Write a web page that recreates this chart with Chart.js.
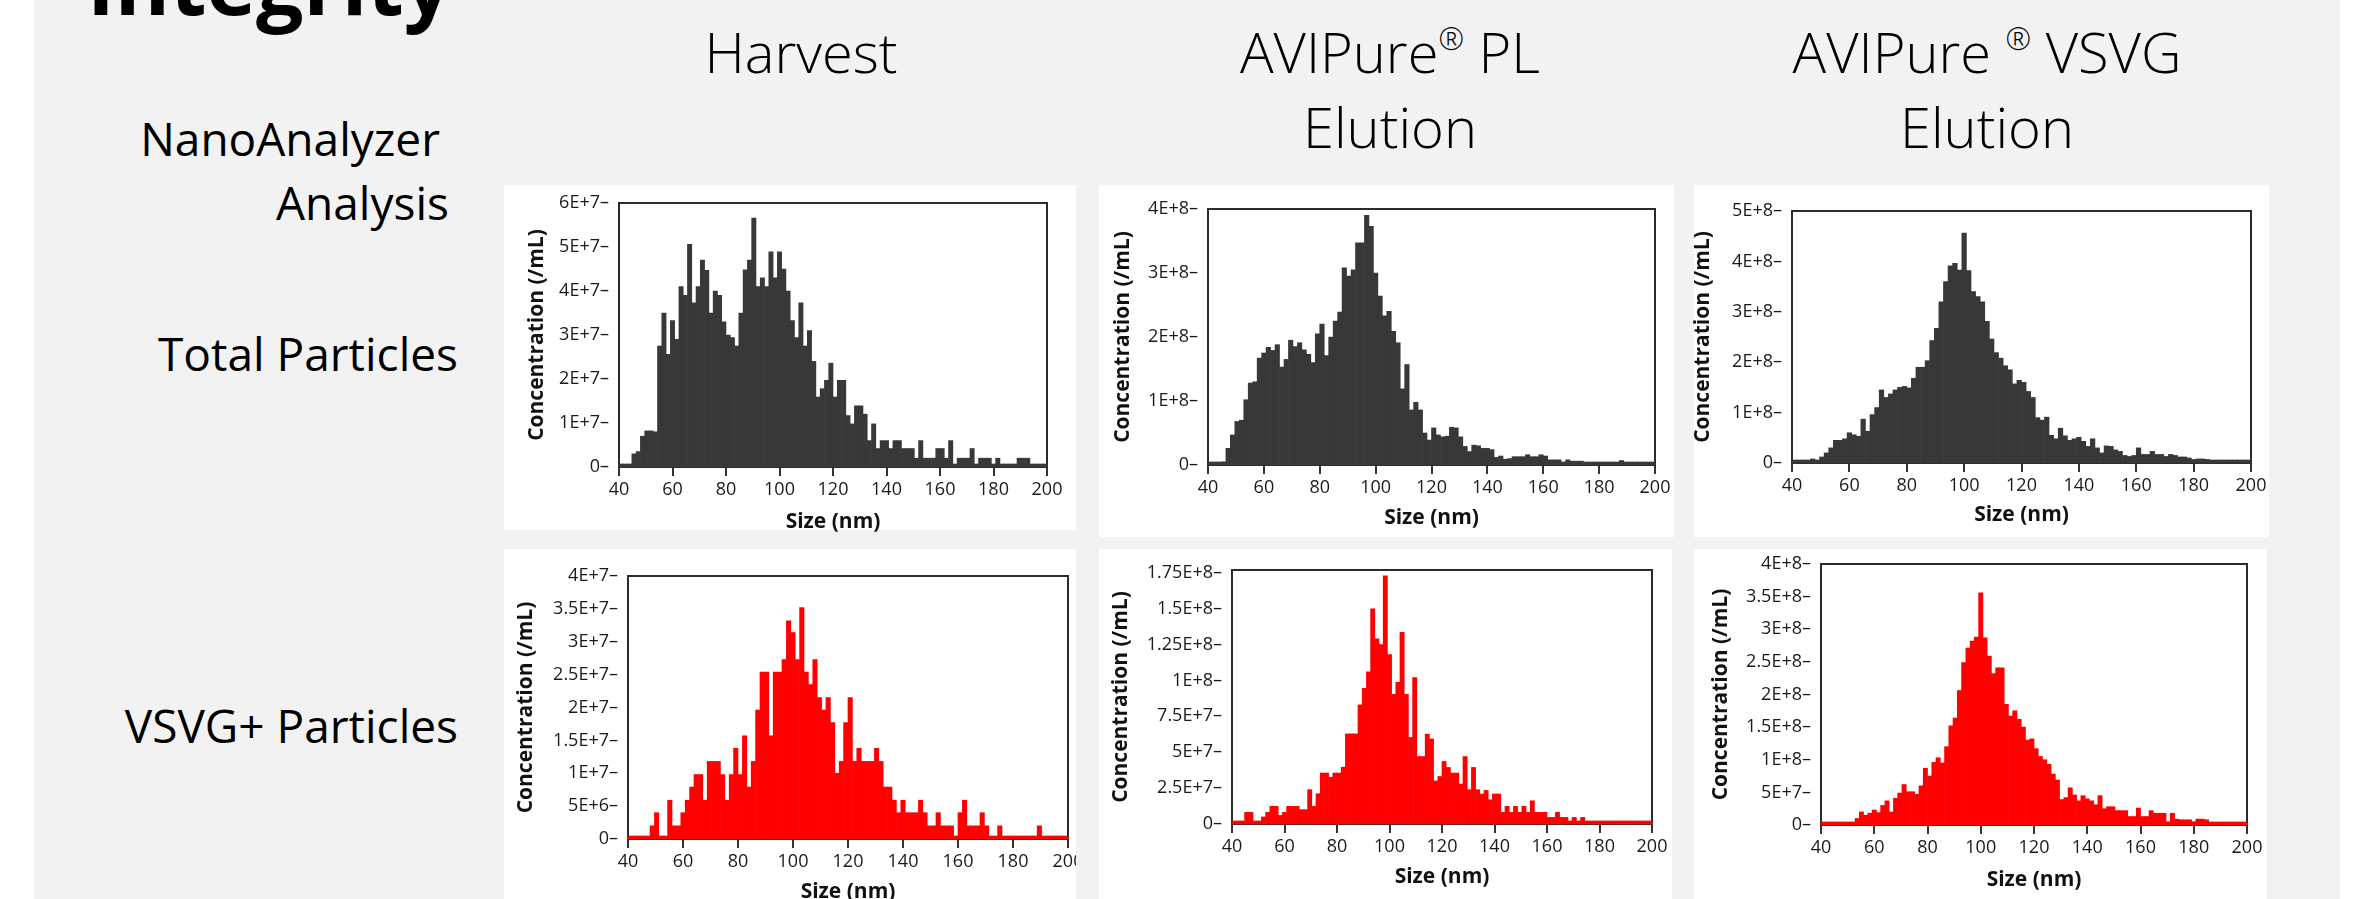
<!DOCTYPE html>
<html>
<head>
<meta charset="utf-8">
<title>NanoAnalyzer Analysis</title>
<script src="https://cdn.jsdelivr.net/npm/chart.js@4.4.1/dist/chart.umd.min.js"></script>
<style>
  html, body { margin: 0; padding: 0; background: #fff; }
  body { width: 2375px; height: 899px; position: relative; overflow: hidden; font-family: "Open Sans", sans-serif; color: #000; }
  .slide { position: absolute; left: 34px; top: 0; width: 2306px; height: 899px; background: #f2f2f2; }
  .txt { position: absolute; white-space: nowrap; line-height: 1; }
  .side { font-size: 46px; }
  .head { position: absolute; width: 600px; text-align: center; font-size: 56px; font-weight: 300; line-height: 75px; white-space: nowrap; }
  .reg { font-size: 0.55em; vertical-align: 0.75em; line-height: 0; }
  .panel { position: absolute; background: #fff; }
  .panel canvas { position: absolute; }
</style>
</head>
<body>
<div class="slide"></div>

<div class="txt" style="left:87px; top:-59px; font-size:84px; font-weight:700;">Integrity</div>

<div class="head" style="left:501px; top:14px;">Harvest</div>
<div class="head" style="left:1090px; top:14px;">AVIPure<span class="reg">®</span> PL<br>Elution</div>
<div class="head" style="left:1687px; top:14px;">AVIPure <span class="reg">®</span> VSVG<br>Elution</div>

<div class="txt side" style="right:1935px; top:115px;">NanoAnalyzer</div>
<div class="txt side" style="right:1926px; top:179px;">Analysis</div>
<div class="txt side" style="right:1917px; top:330px;">Total Particles</div>
<div class="txt side" style="right:1917px; top:702px;">VSVG+ Particles</div>

<script>
// size bins of the NanoAnalyzer histograms (nm)
const binStart = 40, binWidth = 1.6;
const sizeBins = Array.from({ length: 100 }, (_, i) => +(binStart + binWidth * (i + 0.5)).toFixed(2));
const xTicks = [40, 60, 80, 100, 120, 140, 160, 180, 200];

// Total particles, Harvest (x1E+6 /mL)
const harvestTotal = [
  0, 0, 0, 3, 3.5, 7, 8.2, 8.2, 8, 27.5,
  35, 25.6, 33.3, 29, 41, 39, 50.6, 37.3, 41, 47,
  44.7, 35, 40, 39, 33, 30, 29.4, 27.5, 35, 44.8,
  47, 56.6, 41, 43, 41, 48.9, 43, 48.9, 45, 40,
  33.3, 29.4, 37.3, 27.5, 31, 24, 15.9, 17.8, 19.7, 23.6,
  15.9, 19.7, 19.7, 11.7, 9.8, 13.9, 13.9, 12, 6, 9.8,
  4.2, 6, 6, 4.2, 6, 6, 4.2, 4.2, 4.2, 2,
  6, 2, 2, 2, 4.2, 4.2, 2, 6, 0, 2,
  2, 2, 4.2, 0, 2, 2, 2, 0, 2, 0,
  0, 0, 0, 2, 2, 2, 0, 0, 0, 0
];
// Total particles, AVIPure PL elution (x1E+8 /mL)
const plTotal = [
  0, 0, 0, 0.05, 0.26, 0.47, 0.68, 0.7, 1.02, 1.28,
  1.3, 1.67, 1.75, 1.84, 1.79, 1.88, 1.53, 1.65, 1.95, 1.85,
  1.91, 1.8, 1.73, 1.6, 2.05, 2.2, 1.71, 2.0, 2.25, 2.39,
  3.08, 2.95, 3.05, 3.47, 3.47, 3.9, 3.73, 3.0, 2.64, 2.33,
  2.4, 2.09, 1.91, 1.19, 1.57, 0.86, 0.98, 0.86, 0.5, 0.39,
  0.58, 0.47, 0.44, 0.45, 0.59, 0.58, 0.44, 0.29, 0.21, 0.31,
  0.3, 0.26, 0.26, 0.24, 0.12, 0.14, 0.09, 0.1, 0.13, 0.13,
  0.13, 0.16, 0.13, 0.13, 0.16, 0.14, 0.08, 0.08, 0.08, 0.04,
  0.08, 0.06, 0.06, 0.06, 0.02, 0.02, 0.02, 0.02, 0.02, 0.02,
  0.02, 0.02, 0.07, 0.02, 0.01, 0.01, 0.01, 0.01, 0.01, 0.01
];
// Total particles, AVIPure VSVG elution (x1E+8 /mL)
const vsvgTotal = [
  0, 0, 0, 0.04, 0.08, 0.06, 0.12, 0.2, 0.3, 0.45,
  0.45, 0.48, 0.6, 0.56, 0.53, 0.87, 0.63, 0.96, 1.1, 1.45,
  1.3, 1.37, 1.45, 1.5, 1.52, 1.49, 1.68, 1.9, 1.9, 2.03,
  2.43, 2.67, 3.2, 3.6, 3.91, 3.96, 3.83, 4.56, 3.82, 3.4,
  3.3, 3.2, 2.81, 2.46, 2.19, 2.08, 1.93, 1.85, 1.57, 1.64,
  1.6, 1.42, 1.3, 0.9, 0.85, 0.91, 0.55, 0.48, 0.69, 0.54,
  0.45, 0.48, 0.51, 0.43, 0.33, 0.48, 0.3, 0.2, 0.34, 0.33,
  0.26, 0.23, 0.15, 0.13, 0.15, 0.3, 0.17, 0.17, 0.23, 0.17,
  0.17, 0.13, 0.17, 0.15, 0.12, 0.12, 0.1, 0.07, 0.08, 0.08,
  0.07, 0.01, 0.01, 0.01, 0.01, 0.01, 0.01, 0.01, 0.01, 0.01
];
// VSVG+ particles, Harvest (x1E+6 /mL)
const harvestVsvg = [
  0, 0, 0, 0, 0, 2, 4, 0, 0, 5.9,
  2, 2, 4, 5.9, 7.9, 9.8, 9.8, 5.9, 11.8, 11.8,
  11.8, 9.8, 5.9, 9.8, 13.8, 9.8, 15.7, 7.9, 11.8, 19.6,
  25.4, 25.4, 15.7, 25.4, 25.4, 27.3, 33.2, 31.4, 27.3, 35.2,
  25.4, 23.5, 27.3, 21.5, 19.6, 21.5, 17.7, 10, 11.8, 17.7,
  21.5, 11.8, 13.8, 11.8, 11.8, 11.8, 13.8, 11.8, 7.9, 7.9,
  5.9, 4, 5.9, 4, 4, 4, 5.9, 4, 2, 2,
  4, 2, 2, 2, 0, 4, 5.9, 2, 2, 2,
  4, 2, 0, 0, 2, 0, 0, 0, 0, 0,
  0, 0, 0, 2, 0, 0, 0, 0, 0, 0
];
// VSVG+ particles, AVIPure PL elution (x1E+7 /mL)
const plVsvg = [
  0, 0, 0, 0.81, 0.81, 0, 0, 0.49, 0.81, 1.23,
  1.23, 0.6, 0.81, 1.23, 1.23, 1.23, 1.0, 1.0, 2.39, 1.23,
  2.11, 3.55, 3.55, 3.25, 3.55, 3.55, 3.96, 6.28, 6.28, 6.28,
  8.3, 9.46, 10.6, 15, 12.9, 12.5, 17.3, 11.8, 9.04, 9.87,
  13.35, 9.04, 6.03, 10.2, 4.7, 4.7, 6.26, 5.93, 3, 3.31,
  4.36, 3.94, 3.55, 3.55, 2.78, 4.7, 2.39, 3.94, 2.39, 2.09,
  2.34, 1.69, 2.09, 2.09, 0.81, 1.23, 0.81, 1.23, 0.81, 1.23,
  0.81, 1.62, 0.81, 0.81, 0.81, 0.46, 0.46, 0.81, 0.46, 0.46,
  0, 0.46, 0, 0.46, 0, 0, 0, 0, 0, 0,
  0, 0, 0, 0, 0, 0, 0, 0, 0, 0
];
// VSVG+ particles, AVIPure VSVG elution (x1E+8 /mL)
const vsvgVsvg = [
  0.01, 0.01, 0.01, 0.01, 0.01, 0.03, 0.04, 0.04, 0.1, 0.2,
  0.15, 0.18, 0.23, 0.19, 0.3, 0.37, 0.2, 0.41, 0.49, 0.62,
  0.51, 0.51, 0.47, 0.6, 0.87, 0.75, 0.96, 1.03, 0.95, 1.2,
  1.52, 1.64, 2.06, 2.49, 2.71, 2.82, 2.88, 3.56, 2.87, 2.59,
  2.32, 2.41, 2.41, 1.85, 1.67, 1.75, 1.62, 1.5, 1.3, 1.32,
  1.17, 1.05, 1.0, 0.93, 0.78, 0.69, 0.39, 0.42, 0.57, 0.46,
  0.37, 0.45, 0.4, 0.37, 0.31, 0.45, 0.25, 0.28, 0.28, 0.22,
  0.22, 0.22, 0.13, 0.13, 0.26, 0.13, 0.13, 0.22, 0.18, 0.18,
  0.18, 0.05, 0.18, 0.09, 0.08, 0.08, 0.08, 0.05, 0.09, 0.09,
  0.08, 0.04, 0.02, 0.01, 0.01, 0.01, 0.01, 0.01, 0.01, 0.01
];

// y tick values and their labels
const yTicks1 = [0, 1e7, 2e7, 3e7, 4e7, 5e7, 6e7];
const yLabels1 = ['0', '1E+7', '2E+7', '3E+7', '4E+7', '5E+7', '6E+7'];
const yTicks2 = [0, 1e8, 2e8, 3e8, 4e8];
const yLabels2 = ['0', '1E+8', '2E+8', '3E+8', '4E+8'];
const yTicks3 = [0, 1e8, 2e8, 3e8, 4e8, 5e8];
const yLabels3 = ['0', '1E+8', '2E+8', '3E+8', '4E+8', '5E+8'];
const yTicks4 = [0, 5e6, 1e7, 1.5e7, 2e7, 2.5e7, 3e7, 3.5e7, 4e7];
const yLabels4 = ['0', '5E+6', '1E+7', '1.5E+7', '2E+7', '2.5E+7', '3E+7', '3.5E+7', '4E+7'];
const yTicks5 = [0, 2.5e7, 5e7, 7.5e7, 1e8, 1.25e8, 1.5e8, 1.75e8];
const yLabels5 = ['0', '2.5E+7', '5E+7', '7.5E+7', '1E+8', '1.25E+8', '1.5E+8', '1.75E+8'];
const yTicks6 = [0, 5e7, 1e8, 1.5e8, 2e8, 2.5e8, 3e8, 3.5e8, 4e8];
const yLabels6 = ['0', '5E+7', '1E+8', '1.5E+8', '2E+8', '2.5E+8', '3E+8', '3.5E+8', '4E+8'];

const GRAY = '#383838', RED = '#ff0000';

// box: [left, top, width, height] of the white card, plot: [left, top, right, bottom] of the frame (page px)
const panels = [
  { values: harvestTotal, unit: 1e6, color: GRAY, yMax: 6e7, yTicks: yTicks1, yLabels: yLabels1,
    box: [504, 185, 572, 345], plot: [619, 203, 1047, 467], xTitleY: 522, yTitleX: 537 },
  { values: plTotal, unit: 1e8, color: GRAY, yMax: 4e8, yTicks: yTicks2, yLabels: yLabels2,
    box: [1099, 185, 575, 352], plot: [1208, 209, 1655, 465], xTitleY: 518, yTitleX: 1123 },
  { values: vsvgTotal, unit: 1e8, color: GRAY, yMax: 5e8, yTicks: yTicks3, yLabels: yLabels3,
    box: [1694, 185, 575, 352], plot: [1792, 211, 2251, 463], xTitleY: 515, yTitleX: 1703 },
  { values: harvestVsvg, unit: 1e6, color: RED, yMax: 4e7, yTicks: yTicks4, yLabels: yLabels4,
    box: [504, 549, 572, 350], plot: [628, 576, 1068, 839], xTitleY: 892, yTitleX: 526, clip: true },
  { values: plVsvg, unit: 1e7, color: RED, yMax: 1.77e8, yTicks: yTicks5, yLabels: yLabels5,
    box: [1099, 549, 573, 350], plot: [1232, 570, 1652, 824], xTitleY: 877, yTitleX: 1121 },
  { values: vsvgVsvg, unit: 1e8, color: RED, yMax: 4e8, yTicks: yTicks6, yLabels: yLabels6,
    box: [1694, 549, 573, 350], plot: [1821, 564, 2247, 825], xTitleY: 880, yTitleX: 1721 }
];

// black frame around the plot area, under the bars
const framePlugin = {
  id: 'frame',
  beforeDatasetsDraw(chart) {
    const { ctx, chartArea: a } = chart;
    ctx.save();
    ctx.strokeStyle = '#2b2b2b';
    ctx.lineWidth = 2;
    ctx.strokeRect(a.left, a.top, a.right - a.left, a.bottom - a.top);
    ctx.restore();
  }
};

function makePanel(p) {
  const M = 20;
  const [bx, by, bw, bh] = p.box;
  const wrap = document.createElement('div');
  wrap.className = 'panel';
  wrap.style.cssText = `left:${bx}px;top:${by}px;width:${bw}px;height:${bh}px;overflow:${p.clip ? 'hidden' : 'visible'}`;
  document.body.appendChild(wrap);

  const ox = bx - M, oy = by - M;
  const cw = bw + 2 * M;
  const ch = p.xTitleY + 16 - oy;
  const cv = document.createElement('canvas');
  cv.width = cw; cv.height = ch;
  cv.style.cssText = `left:${-M}px;top:${-M}px;width:${cw}px;height:${ch}px`;
  wrap.appendChild(cv);

  const plotL = p.plot[0] - ox, plotT = p.plot[1] - oy;
  const plotR = p.plot[2] - ox, plotB = p.plot[3] - oy;
  const titleFont = { size: 21, weight: 'bold' };
  const half = titleFont.size * 1.2 / 2;
  const tickFont = { size: 18 };

  new Chart(cv, {
    type: 'bar',
    data: {
      datasets: [{
        data: p.values.map((v, i) => ({ x: sizeBins[i], y: v * p.unit })),
        backgroundColor: p.color,
        borderWidth: 0,
        barPercentage: 1,
        categoryPercentage: 1,
        minBarLength: 3,
        clip: 4
      }]
    },
    options: {
      responsive: false,
      animation: false,
      devicePixelRatio: 1,
      layout: { padding: { left: 0, top: plotT, right: cw - plotR, bottom: 0 } },
      plugins: { legend: { display: false }, tooltip: { enabled: false } },
      scales: {
        x: {
          type: 'linear', min: 40, max: 200, offset: false,
          afterBuildTicks: s => { s.ticks = xTicks.map(v => ({ value: v })); },
          afterFit: s => { s.height = ch - plotB; },
          grid: { drawOnChartArea: false, drawTicks: true, tickLength: 9, color: '#333', lineWidth: 2, offset: false },
          border: { display: false },
          ticks: { autoSkip: false, maxRotation: 0, padding: 3, color: '#1a1a1a', font: tickFont },
          title: { display: true, text: 'Size (nm)', color: '#111', font: titleFont, padding: { top: 0, bottom: 16 - half } }
        },
        y: {
          min: 0, max: p.yMax,
          afterBuildTicks: s => { s.ticks = p.yTicks.map(v => ({ value: v })); },
          afterFit: s => { s.width = plotL; },
          grid: { display: false, drawTicks: false },
          border: { display: false },
          ticks: { autoSkip: false, padding: 10, color: '#1a1a1a', font: tickFont,
                   callback: (v, i) => p.yLabels[i] + '–' },
          title: { display: true, text: 'Concentration (/mL)', color: '#111', font: titleFont,
                   padding: { top: p.yTitleX - ox - half, bottom: 0 } }
        }
      }
    },
    plugins: [framePlugin]
  });
}

Chart.defaults.font.family = '"Open Sans", sans-serif';

Promise.all([
  document.fonts.load('18px "Open Sans"'),
  document.fonts.load('bold 21px "Open Sans"')
]).catch(() => {}).then(() => panels.forEach(makePanel));
</script>
</body>
</html>
